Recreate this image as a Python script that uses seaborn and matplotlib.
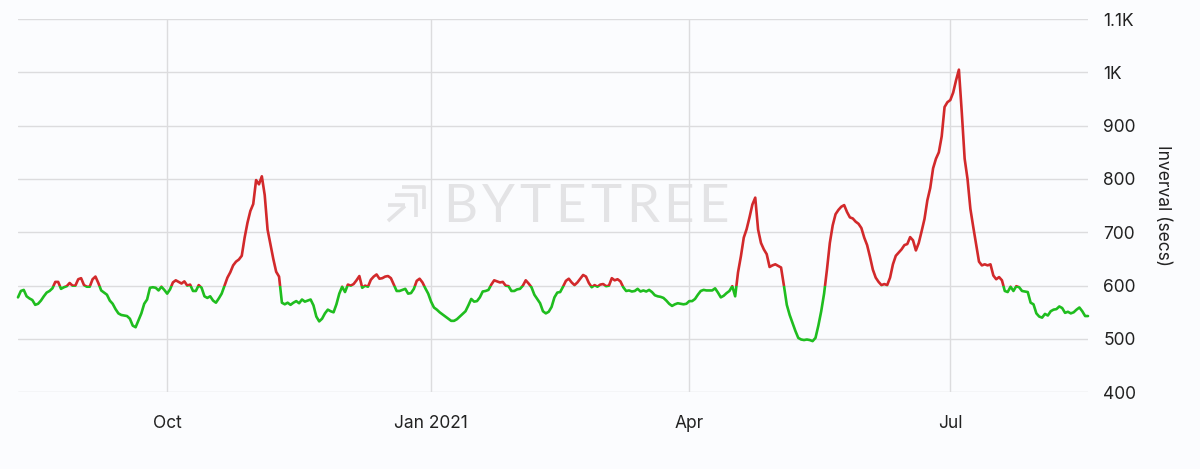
import matplotlib
matplotlib.use("Agg")
import numpy as np
import pandas as pd
import seaborn as sns
import matplotlib.pyplot as plt
import matplotlib.dates as mdates
from matplotlib.patches import Rectangle
from matplotlib.lines import Line2D

# ---------------- data (daily block interval, seconds) ----------------
START_DATE = "2020-08-10"
aug_2020 = [578, 590, 592, 580, 576, 573, 564, 566, 572, 580, 587, 590, 595, 607,
            607, 594, 597, 599, 605, 600, 600, 612]
sep_2020 = [614, 601, 598, 598, 612, 617, 605, 591, 587, 583, 572, 566, 556, 548,
            545, 544, 543, 538, 525, 522, 535, 548, 566, 574, 596, 597, 596, 591,
            598, 592]
oct_2020 = [585, 593, 606, 610, 607, 604, 608, 600, 602, 590, 590, 601, 596, 580,
            577, 580, 572, 568, 576, 585, 600, 615, 625, 638, 645, 649, 656, 690,
            718, 740, 753]
nov_2020 = [798, 790, 805, 770, 705, 678, 650, 626, 617, 568, 565, 568, 564, 568,
            571, 567, 574, 570, 572, 574, 563, 542, 533, 538, 548, 555, 552, 550,
            565, 585]
dec_2020 = [598, 588, 602, 600, 603, 610, 618, 596, 600, 598, 611, 617, 621, 613,
            614, 617, 618, 614, 602, 590, 590, 592, 594, 585, 586, 594, 609, 613,
            606, 595, 585]
jan_2021 = [570, 559, 555, 550, 546, 542, 538, 534, 534, 537, 542, 547, 552, 563,
            575, 570, 571, 578, 589, 590, 592, 602, 610, 608, 606, 607, 600, 599,
            590, 590, 593]
feb_2021 = [594, 600, 610, 604, 597, 583, 575, 567, 552, 548, 551, 560, 578, 587,
            588, 598, 609, 613, 606, 601, 606, 613, 620, 617, 605, 597, 601, 598]
mar_2021 = [602, 603, 599, 600, 614, 610, 612, 608, 597, 590, 591, 589, 590, 594,
            589, 591, 589, 592, 588, 582, 580, 579, 577, 572, 566, 562, 565, 567,
            566, 565, 566]
apr_2021 = [571, 571, 575, 583, 590, 592, 591, 591, 591, 595, 587, 578, 581, 586,
            590, 599, 580, 625, 655, 690, 706, 728, 752, 765, 705, 680, 668, 659,
            635, 638]
may_2021 = [640, 637, 634, 600, 564, 545, 530, 515, 502, 499, 498, 499, 498, 496,
            502, 525, 552, 585, 630, 680, 713, 734, 742, 748, 751, 738, 728, 726,
            720, 716, 708]
jun_2021 = [690, 676, 654, 630, 615, 607, 601, 603, 601, 615, 640, 656, 662, 668,
            676, 678, 691, 685, 666, 680, 702, 725, 760, 783, 820, 838, 850, 880,
            935, 944]
jul_2021 = [948, 962, 985, 1005, 925, 838, 800, 744, 710, 678, 645, 638, 640, 638,
            640, 619, 612, 616, 610, 590, 588, 598, 590, 599, 597, 590, 589, 588,
            568, 565, 548]
aug_2021 = [542, 540, 547, 544, 552, 555, 556, 561, 558, 549, 551, 548, 550, 555,
            559, 552, 543, 543]

THRESHOLD = 600
x_tick_dates = ["2020-10-01", "2021-01-01", "2021-04-01", "2021-07-01"]
x_tick_labels = ["Oct", "Jan 2021", "Apr", "Jul"]
y_ticks = [400, 500, 600, 700, 800, 900, 1000, 1100]
y_tick_labels = ["400", "500", "600", "700", "800", "900", "1K", "1.1K"]
y_label = "Inverval (secs)"
watermark = "BYTETREE"

interval = (aug_2020 + sep_2020 + oct_2020 + nov_2020 + dec_2020 + jan_2021 +
            feb_2021 + mar_2021 + apr_2021 + may_2021 + jun_2021 + jul_2021 + aug_2021)
df = pd.DataFrame({"date": pd.date_range(START_DATE, periods=len(interval), freq="D"),
                   "interval": interval})

# ---------------- style ----------------
BG = "#fbfcfe"
GREEN = "#1fbd1f"
RED = "#d2292b"
GRID = "#dcdcde"
TEXT = "#222222"
WM = "#e3e3e5"

sns.set_theme(style="white")
plt.rcParams["font.family"] = ["Inter", "DejaVu Sans"]

fig = plt.figure(figsize=(12, 4.69), dpi=100, facecolor=BG)
ax = fig.add_axes([18 / 1200, 1 - 392.3 / 469, 1070 / 1200, (392.3 - 19) / 469])
ax.set_facecolor(BG)

x0 = mdates.date2num(df["date"].min()) - 30
x1 = mdates.date2num(df["date"].max()) + 30
for color, lo, hi in [(GREEN, 0, THRESHOLD), (RED, THRESHOLD, 5000)]:
    sns.lineplot(data=df, x="date", y="interval", ax=ax, color=color,
                 linewidth=1.9, zorder=3)
    line = ax.lines[-1]
    clip = Rectangle((x0, lo), x1 - x0, hi - lo, transform=ax.transData)
    line.set_clip_path(clip)
    line.set_solid_joinstyle("round")
    line.set_solid_capstyle("round")

ax.set_xlim(df["date"].min(), df["date"].max())
ax.set_ylim(400, 1100)
ax.set_xticks(pd.to_datetime(x_tick_dates))
ax.set_xticklabels(x_tick_labels)
ax.set_yticks(y_ticks)
ax.set_yticklabels(y_tick_labels)
ax.yaxis.tick_right()
ax.yaxis.set_label_position("right")
ax.tick_params(axis="both", length=0, labelsize=12.5, colors=TEXT)
ax.tick_params(axis="x", pad=16)
ax.tick_params(axis="y", pad=11)
ax.set_xlabel("")
ax.set_ylabel(y_label, rotation=270, fontsize=12.5, color=TEXT, va="center", ha="center")
ax.yaxis.set_label_coords((1163 - 18) / 1070, 0.5)
ax.grid(True, color=GRID, linewidth=1)
ax.set_axisbelow(True)
for s in ax.spines.values():
    s.set_visible(False)

# watermark, letter-spaced
renderer = fig.canvas.get_renderer()
x_px = 443.0
x_end = 729.0
letters = []
for ch in watermark:
    t = ax.text(x_px / 1200, 1 - 207 / 469, ch, transform=fig.transFigure,
                fontsize=38, color=WM, ha="left", va="center",
                family=["Lato", "DejaVu Sans"], fontweight="normal", zorder=0.2)
    w = t.get_window_extent(renderer).width
    letters.append((t, w))
    x_px += w
natural = sum(w for _, w in letters)
gap = (x_end - 443.0 - natural) / (len(letters) - 1)
x_px = 443.0
for t, w in letters:
    t.set_x(x_px / 1200)
    x_px += w + gap

def fig_line(pts):
    xs = [p[0] / 1200 for p in pts]
    ys = [1 - p[1] / 469 for p in pts]
    ax.add_line(Line2D(xs, ys, transform=fig.transFigure, color=WM, lw=2.6,
                       zorder=0.2, solid_capstyle="butt"))
fig_line([(402, 187), (424, 187), (424, 209)])
fig_line([(395, 195), (416, 195), (416, 217)])
fig_line([(388, 205), (405, 205)])
fig_line([(388, 221), (405, 206)])

fig.savefig("out.png", dpi=100, facecolor=BG)
